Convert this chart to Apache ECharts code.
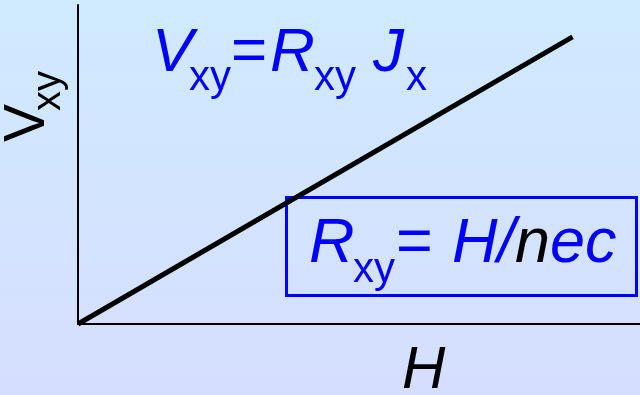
<!DOCTYPE html>
<html>
<head>
<meta charset="utf-8">
<script src="https://cdn.jsdelivr.net/npm/echarts@6/dist/echarts.min.js"></script>
<style>
  html, body { margin: 0; padding: 0; }
  #chart { width: 640px; height: 395px; }
</style>
</head>
<body>
<div id="chart"></div>
<script>
// line through the origin: H on x, V_xy on y
const hValues = [0, 88]
const vValues = [0, 90]
const axisMax = 100

const FONT = '"Liberation Sans", Arial, sans-serif'
const BLUE = '#0000ff'

// text piece placed by its left edge and alphabetic baseline
const txt = (x, base, str, size, italic, color, rot) => {
  const el = {
    type: 'text',
    x: x,
    y: base - 0.35 * size,
    style: {
      text: str,
      fontSize: size,
      fontFamily: FONT,
      fontStyle: italic ? 'italic' : 'normal',
      fill: color,
      align: 'left',
      verticalAlign: 'middle'
    }
  }
  if (rot) {
    el.rotation = Math.PI / 2
    el.x = base - 0.35 * size
    el.y = x
  }
  return el
}

const chart = echarts.init(document.getElementById('chart'))

const option = {
  animation: false,
  backgroundColor: new echarts.graphic.LinearGradient(0, 0, 0, 1, [
    { offset: 0, color: '#cfeaff' },
    { offset: 1, color: '#d6defe' }
  ]),
  grid: { left: 78, right: 0, top: 5, bottom: 71 },
  xAxis: {
    type: 'value',
    min: 0,
    max: axisMax,
    axisLine: { show: true, lineStyle: { color: '#000', width: 2 } },
    axisTick: { show: false },
    axisLabel: { show: false },
    splitLine: { show: false }
  },
  yAxis: {
    type: 'value',
    min: 0,
    max: axisMax,
    axisLine: { show: true, lineStyle: { color: '#000', width: 2 } },
    axisTick: { show: false },
    axisLabel: { show: false },
    splitLine: { show: false }
  },
  series: [
    {
      type: 'line',
      data: hValues.map((h, i) => [h, vValues[i]]),
      symbol: 'none',
      clip: false,
      lineStyle: { color: '#000', width: 5, cap: 'butt' }
    }
  ],
  graphic: [
    // V_xy = R_xy J_x
    txt(152, 75, 'V', 62, true, BLUE),
    txt(189, 93, 'xy', 42, false, BLUE),
    txt(231, 75, '=', 62, false, BLUE),
    txt(270, 75, 'R', 62, true, BLUE),
    txt(314, 93, 'xy', 42, false, BLUE),
    txt(373, 75, 'J', 62, true, BLUE),
    txt(406, 93, 'x', 42, false, BLUE),
    // boxed relation
    {
      type: 'rect',
      shape: { x: 286.5, y: 197.5, width: 350, height: 98 },
      style: { fill: 'none', stroke: BLUE, lineWidth: 3 }
    },
    txt(309, 267, 'R', 63, true, BLUE),
    txt(353, 285, 'xy', 42, false, BLUE),
    txt(396, 267, '=', 63, false, BLUE),
    txt(452, 267, 'H/', 63, true, BLUE),
    txt(515, 267, 'n', 63, true, '#000'),
    txt(550, 267, 'ec', 63, true, BLUE),
    // axis names
    txt(402, 392, 'H', 60, true, '#000'),
    txt(142, 48, 'V', 57, false, '#000', true),
    txt(111, 63, 'xy', 40, false, '#000', true)
  ]
}

chart.setOption(option)
</script>
</body>
</html>
